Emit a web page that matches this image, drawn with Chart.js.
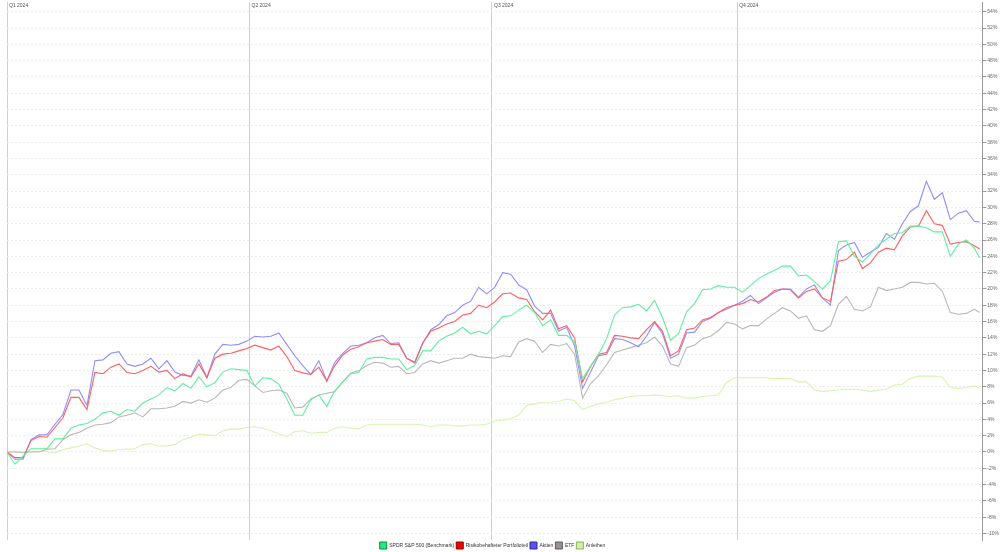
<!DOCTYPE html>
<html lang="de">
<head>
<meta charset="utf-8">
<title>Wertentwicklung 2024</title>
<script src="https://cdn.jsdelivr.net/npm/chart.js@4.4.1/dist/chart.umd.min.js"></script>
<style>
  html, body { margin: 0; padding: 0; background: #fff; }
  #chartWrap { position: relative; width: 1000px; height: 552px; }
</style>
</head>
<body>
<div id="chartWrap"><canvas id="perfChart"></canvas></div>
<script>
/* ===== Data (days since 1 Jan 2024, performance in %) ===== */
const days = [
  0, 3, 6, 9, 12, 15, 18, 21, 24, 27,
  30, 33, 36, 39, 42, 45, 48, 51, 54, 57,
  60, 63, 66, 69, 72, 75, 78, 81, 84, 87,
  90, 93, 96, 99, 102, 105, 108, 111, 114, 117,
  120, 123, 126, 129, 132, 135, 138, 141, 144, 147,
  150, 153, 156, 159, 162, 165, 168, 171, 174, 177,
  180, 183, 186, 189, 192, 195, 198, 201, 204, 207,
  210, 213, 216, 219, 222, 225, 228, 231, 234, 237,
  240, 243, 246, 249, 252, 255, 258, 261, 264, 267,
  270, 273, 276, 279, 282, 285, 288, 291, 294, 297,
  300, 303, 306, 309, 312, 315, 318, 321, 324, 327,
  330, 333, 336, 339, 342, 345, 348, 351, 354, 357,
  360, 363, 365
];

const spdr = [
  0, -1.5, -0.5, 0.4, 0.4, 0.4, 1.6, 1.6, 2.9, 3.3,
  3.5, 4.0, 4.8, 5.0, 4.5, 5.2, 5.0, 6.0, 6.5, 7.0,
  7.9, 7.5, 8.4, 7.8, 9.2, 8.0, 8.5, 9.8, 10.2, 10.1,
  10.0, 8.1, 9.1, 9.0, 8.3, 6.5, 4.5, 4.5, 6.4, 7.0,
  5.6, 7.5, 8.6, 9.6, 9.75, 11.4, 11.6, 11.6, 11.4, 11.4,
  10.1, 10.6, 12.4, 12.4, 13.6, 14.2, 14.6, 15.3, 14.5, 14.8,
  14.5, 15.5, 16.6, 16.7, 17.4, 18.0, 17.1, 15.5, 16.2, 14.3,
  14.3, 13.5, 9.0, 10.5, 12.0, 13.9, 16.8, 17.7, 17.8, 18.1,
  17.3, 18.6, 16.5, 13.7, 14.5, 17.2, 18.2, 19.9, 20.0, 20.4,
  20.2, 20.2, 19.6, 20.4, 21.3, 21.8, 22.3, 22.8, 22.8, 21.6,
  21.7, 20.9, 20.0, 21.0, 25.8, 25.9, 24.0, 23.3, 24.3, 25.4,
  26.1, 26.8, 26.9, 27.7, 27.7, 27.5, 27.0, 27.0, 24.0, 25.5,
  26.0, 25.0, 23.8
];

const risiko = [
  0, -0.7, -0.7, 1.4, 1.9, 1.8, 3.0, 4.2, 6.7, 6.7,
  5.2, 9.75, 9.6, 10.4, 10.8, 9.75, 9.6, 10.0, 10.5, 9.8,
  10.0, 9.0, 9.6, 9.2, 10.8, 9.1, 11.5, 12.0, 12.1, 12.4,
  12.7, 13.1, 12.8, 12.5, 13.0, 11.7, 10.0, 9.7, 9.5, 10.4,
  8.7, 10.6, 11.9, 12.6, 12.9, 13.4, 13.6, 13.8, 13.2, 13.2,
  11.5, 11.0, 13.4, 14.8, 15.2, 15.7, 16.0, 16.8, 17.0, 18.0,
  17.7, 18.4, 19.4, 19.5, 18.9, 18.7, 17.2, 16.2, 17.4, 15.1,
  15.5, 14.0, 8.6, 10.5, 12.0, 12.2, 14.3, 14.2, 14.0, 13.9,
  15.0, 16.0, 14.8, 11.8, 12.4, 15.0, 15.2, 16.2, 16.5, 17.1,
  17.7, 18.0, 18.2, 18.7, 18.4, 19.0, 19.8, 20.0, 19.9, 18.9,
  19.7, 20.0, 18.9, 18.5, 23.4, 23.6, 24.5, 22.5, 23.2, 24.5,
  25.0, 24.8, 26.5, 27.6, 27.7, 29.6, 28.0, 27.8, 25.5, 25.7,
  25.8, 25.3, 24.9
];

const aktien = [
  0, -0.9, -0.9, 1.5, 2.1, 2.1, 3.4, 4.6, 7.6, 7.6,
  5.7, 11.2, 11.3, 12.1, 12.3, 10.8, 10.5, 10.8, 11.5, 10.2,
  11.2, 9.8, 9.4, 9.3, 11.3, 9.1, 12.0, 13.2, 13.1, 13.2,
  13.6, 14.2, 14.1, 14.2, 14.6, 13.2, 11.8, 10.6, 9.5, 11.2,
  8.7, 11.0, 12.1, 13.0, 13.1, 13.4, 14.0, 14.3, 13.3, 13.4,
  11.5, 10.9, 13.3, 15.0, 15.6, 16.7, 17.1, 18.0, 18.5, 20.2,
  19.4, 20.2, 22.0, 21.8, 20.5, 19.9, 17.9, 17.0, 17.0, 14.8,
  15.3, 13.0, 7.8, 9.8, 11.8, 12.0, 13.9, 13.8, 13.4, 12.9,
  14.2, 15.9, 14.5, 11.5, 12.0, 14.6, 14.7, 16.0, 16.4, 17.1,
  17.5, 18.0, 18.5, 19.2, 18.2, 18.9, 19.6, 20.0, 20.0, 19.0,
  20.0, 20.5, 18.9, 18.0, 24.7, 25.4, 25.7, 23.9, 24.5, 25.1,
  26.8, 26.1, 28.0, 29.5, 30.2, 33.2, 31.0, 31.8, 28.5, 29.3,
  29.6, 28.3, 28.2
];

const etf = [
  0, 0, -0.1, 0, 0, 0.35, 0.4, 1.5, 2.1, 2.4,
  2.9, 3.3, 3.4, 3.6, 4.3, 4.5, 4.8, 4.3, 5.3, 5.3,
  5.4, 5.6, 6.2, 6.0, 6.4, 6.1, 6.6, 7.6, 7.9, 8.8,
  8.9, 8.1, 7.3, 7.5, 7.6, 7.2, 5.4, 5.5, 6.5, 7.0,
  7.2, 7.4, 8.6, 9.7, 9.95, 10.6, 11.0, 10.9, 10.4, 10.5,
  9.6, 9.75, 10.8, 11.2, 10.9, 11.2, 11.5, 11.5, 12.0, 11.7,
  11.6, 11.5, 11.8, 11.7, 13.5, 13.9, 13.6, 12.2, 13.2, 13.0,
  13.3, 12.0, 6.6, 8.4, 9.35, 10.7, 12.2, 12.5, 12.8, 13.1,
  13.4, 14.1, 13.0, 10.8, 10.5, 12.8, 13.1, 13.9, 14.2, 14.9,
  15.9, 15.7, 15.1, 15.5, 15.5, 16.3, 17.0, 17.7, 17.3, 16.4,
  16.7, 15.0, 14.8, 15.5, 18.1, 19.1, 17.5, 17.3, 17.8, 20.2,
  19.8, 20.0, 20.2, 20.8, 20.8, 20.6, 20.7, 19.7, 17.1, 16.9,
  17.0, 17.5, 17.1
];

const anleihen = [
  0, 0.1, 0, 0.1, 0.05, 0, -0.1, 0.3, 0.5, 0.7,
  1.0, 0.5, 0.2, 0.1, 0.3, 0.35, 0.4, 0.9, 1.0, 0.7,
  0.75, 0.9, 1.5, 1.8, 2.2, 2.1, 2.0, 2.6, 2.8, 2.8,
  3.0, 3.1, 2.9, 2.6, 2.2, 1.9, 2.5, 2.6, 2.3, 2.4,
  2.4, 2.9, 3.1, 2.9, 2.8, 3.3, 3.4, 3.4, 3.4, 3.4,
  3.4, 3.4, 3.3, 3.1, 3.3, 3.3, 3.2, 3.2, 3.3, 3.3,
  3.4, 3.8, 3.9, 4.1, 4.5, 5.7, 5.9, 6.1, 6.1, 6.2,
  6.5, 6.3, 5.2, 5.6, 5.9, 6.1, 6.4, 6.6, 6.8, 6.9,
  6.9, 7.0, 6.9, 6.8, 6.9, 6.6, 6.6, 6.8, 6.9, 7.0,
  8.5, 9.1, 9.1, 9.1, 9.1, 9.1, 9.0, 9.0, 9.0, 8.6,
  8.6, 7.6, 7.4, 7.5, 7.6, 7.7, 7.7, 7.6, 7.4, 7.6,
  7.7, 8.2, 8.3, 9.0, 9.3, 9.3, 9.3, 9.2, 7.9, 7.8,
  7.9, 8.1, 7.8
];

const seriesNames = ['SPDR S&P 500 (Benchmark)', 'Risikobehafteter Portfolioteil', 'Aktien', 'ETF', 'Anleihen'];
const seriesValues = [spdr, risiko, aktien, etf, anleihen];

// quarter markers on the time axis
const quarterDays = [0, 91, 182, 274];
const quarterLabels = ['Q1 2024', 'Q2 2024', 'Q3 2024', 'Q4 2024'];

// y axis ticks (percent)
const yTickValues = [-10, -8, -6, -4, -2, 0, 2, 4, 6, 8, 10, 12, 14, 16, 18, 20, 22,
  24, 26, 28, 30, 32, 34, 36, 38, 40, 42, 44, 46, 48, 50, 52, 54];

/* ===== Styles ===== */
const lineColors = ['#62ee9f', '#ff6060', '#8e8eff', '#b8b8b8', '#d8f4b0'];
const boxFill = ['#1fe985', '#f00000', '#5454f2', '#9b9191', '#ccf5a2'];
const boxStroke = ['#0b8a45', '#8a0000', '#2b2b95', '#5f5858', '#8ea865'];
const FONT = '"Liberation Sans", Arial, sans-serif';

const datasets = seriesNames.map((name, i) => ({
  label: name,
  data: days.map((d, j) => ({ x: d, y: seriesValues[i][j] })),
  borderColor: lineColors[i],
  backgroundColor: boxFill[i],
  borderWidth: 1.1,
  pointRadius: 0,
  tension: 0,
  fill: false
}));

/* ===== Quarter labels drawn at the top of each quarter line ===== */
const quarterLabelPlugin = {
  id: 'quarterLabels',
  afterLayout(chart) {
    // legend sits a bit left of the canvas centre in the original
    if (chart.legend) {
      chart.legend.left -= 11;
      chart.legend.right -= 11;
    }
  },
  afterDraw(chart) {
    const { ctx, scales } = chart;
    ctx.save();
    ctx.font = '5px ' + FONT;
    ctx.fillStyle = '#555';
    ctx.textBaseline = 'middle';
    ctx.textAlign = 'left';
    quarterDays.forEach((d, i) => {
      const x = scales.x.getPixelForValue(d);
      ctx.fillText(quarterLabels[i], x + 2, 6);
    });
    ctx.restore();
  }
};

const ctx = document.getElementById('perfChart');
new Chart(ctx, {
  type: 'line',
  data: { datasets },
  options: {
    responsive: true,
    maintainAspectRatio: false,
    animation: false,
    layout: { padding: { left: 7, top: -4, right: 0, bottom: -7 } },
    plugins: {
      legend: {
        position: 'bottom',
        labels: {
          boxWidth: 7,
          boxHeight: 7,
          padding: 2,
          color: '#333',
          font: { size: 5, family: FONT },
          generateLabels(chart) {
            const items = Chart.defaults.plugins.legend.labels.generateLabels(chart);
            items.forEach((it, i) => {
              it.fillStyle = boxFill[i];
              it.strokeStyle = boxStroke[i];
              it.lineWidth = 1;
            });
            return items;
          }
        }
      },
      tooltip: { enabled: false }
    },
    scales: {
      x: {
        type: 'linear',
        min: 0,
        max: 366,
        afterBuildTicks(scale) {
          scale.ticks = quarterDays.map(v => ({ value: v }));
        },
        ticks: { display: false },
        grid: { color: '#d0d0d0', drawTicks: false },
        border: { display: false }
      },
      y: {
        position: 'right',
        min: -10.8,
        max: 55.2,
        afterBuildTicks(scale) {
          scale.ticks = yTickValues.map(v => ({ value: v }));
        },
        ticks: {
          padding: 1,
          color: '#666',
          font: { size: 5, family: FONT, lineHeight: 0.4 },
          callback: v => v + '%'
        },
        grid: { color: '#ececec', tickLength: 4, tickColor: '#999' },
        border: { display: true, color: '#999', dash: [2, 2] }
      }
    }
  },
  plugins: [quarterLabelPlugin]
});
</script>
</body>
</html>
